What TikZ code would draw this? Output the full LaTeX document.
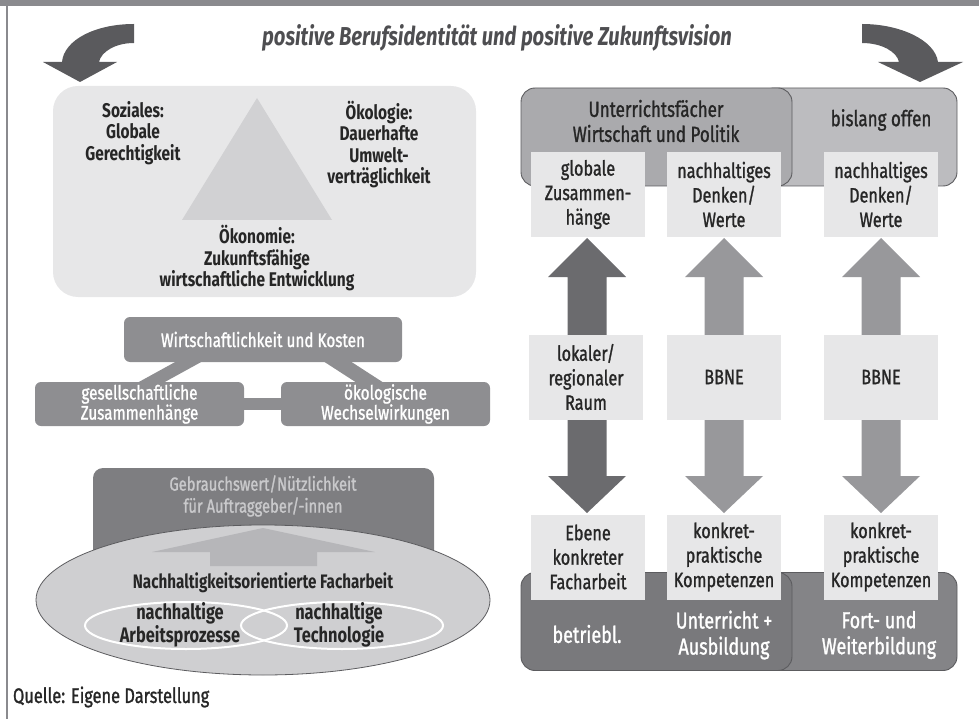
\documentclass[tikz,border=0pt]{standalone}
\usepackage{fontspec}
\setmainfont{Fira Sans}[FakeStretch=0.78]
\newfontfamily\medfont{Fira Sans}[FakeStretch=0.78, FakeBold=1.2]
\usetikzlibrary{calc,shapes.geometric}
\definecolor{barC}{HTML}{8A8A8E}
\definecolor{titleC}{HTML}{4E4E51}
\definecolor{curveC}{HTML}{5A5A5D}
\definecolor{paleC}{HTML}{E7E7E8}
\definecolor{triC}{HTML}{D1D1D3}
\definecolor{midC}{HTML}{8E8E91}
\definecolor{darkC}{HTML}{7E7E81}
\definecolor{ellC}{HTML}{CFCFD1}
\definecolor{ellArrC}{HTML}{B6B6B9}
\definecolor{gbTxtC}{HTML}{C9C9CB}
\definecolor{txtC}{HTML}{262626}
\definecolor{edgeC}{HTML}{5C5C5F}
\definecolor{ufC}{HTML}{AAAAAD}
\definecolor{boC}{HTML}{BCBCBF}
\definecolor{botLC}{HTML}{79797C}
\definecolor{botRC}{HTML}{848487}
\definecolor{arrDarkC}{HTML}{6B6B6E}
\definecolor{arrMidC}{HTML}{98989B}
\begin{document}
\begin{tikzpicture}[x=1pt,y=-1pt,
  every node/.style={inner sep=0pt, outer sep=0pt},
  bodytxt/.style={font=\medfont\fontsize{20.8}{24.5}\selectfont, text=txtC, align=center},
  boldtxt/.style={font=\fontsize{19.8}{21.5}\selectfont\bfseries, text=txtC, align=center},
  lightbox/.style={bodytxt, fill=paleC, minimum width=114pt, minimum height=85pt},
  bigbox/.style={draw=edgeC, line width=0.9pt, rounded corners=14pt, minimum width=#1, minimum height=98pt},
  midbox/.style={fill=midC, rounded corners=6pt, text=white, align=center, font=\medfont\fontsize{19.6}{20}\selectfont},
  wring/.style={shape=ellipse, draw=white, line width=2pt, minimum width=202pt, minimum height=47pt},
  headtxt/.style={font=\medfont\fontsize{21.8}{25}\selectfont, text=txtC, align=center},
  foottxt/.style={font=\medfont\fontsize{23}{26}\selectfont, text=white, align=center}
]
\useasboundingbox (0,0) rectangle (979,719);
% frame
\fill[barC] (0,0) rectangle (979,6);
\fill[barC] (6,6) rectangle (8,719);

% title
\node[font=\fontsize{25.9}{30}\selectfont\bfseries\itshape, text=titleC] (title) at (497,38) {positive Berufsidentität und positive Zukunftsvision};

% curved arrows
\fill[curveC] (134,24) .. controls (95,24) and (64,40) .. (62,62) -- (43,62) -- (80,82) -- (117,62) -- (99,62) .. controls (101,52) and (115,43) .. (134,43) -- cycle;
\fill[curveC] (862,24) .. controls (900,24) and (935,40) .. (938,62) -- (963,62) -- (920,82) -- (878,62) -- (899,62) .. controls (897,52) and (882,43) .. (862,43) -- cycle;

% ===== left: triangle panel
\node[fill=paleC, rounded corners=25pt, minimum width=423pt, minimum height=211pt] (panel) at (264.5,191.5) {};
\fill[triC] (257,98) -- (332,220) -- (182,220) -- cycle;
\node[boldtxt] (soz) at (133,133) {Soziales:\\Globale\\Gerechtigkeit};
\node[boldtxt] (oekol) at (379,144.5) {Ökologie:\\Dauerhafte\\Umwelt-\\verträglichkeit};
\node[boldtxt] (oekon) at (257,258.5) {Ökonomie:\\Zukunftsfähige\\wirtschaftliche Entwicklung};

% ===== left: Wirtschaftlichkeit
\node[midbox, minimum width=278pt, minimum height=45pt] (wk) at (263,339.5) {Wirtschaftlichkeit und Kosten};
\node[midbox, minimum width=209pt, minimum height=44pt] (gz) at (139.5,404) {gesellschaftliche\\Zusammenhänge};
\node[midbox, minimum width=209pt, minimum height=44pt] (ow) at (385.5,404) {ökologische\\Wechselwirkungen};
\fill[midC] ($(wk.south west)+(53,-1)$) -- ++(26,0) -- ($(gz.north west)+(128,1)$) -- ++(-26,0) -- cycle;
\fill[midC] ($(wk.south east)+(-79,-1)$) -- ++(27,0) -- ($(ow.north west)+(103,1)$) -- ++(-27,0) -- cycle;
\fill[midC] ($(gz.east)+(-1,-6)$) rectangle ($(ow.west)+(1,6)$);

% ===== left: Facharbeit
\node[fill=darkC, rounded corners=10pt, minimum width=341pt, minimum height=132pt] (gb) at (263.5,534) {};
\node[font=\medfont\fontsize{18.9}{22}\selectfont, text=gbTxtC, align=center] (gbt) at (263,496) {Gebrauchswert/Nützlichkeit\\für Auftraggeber/-innen};
\node[shape=ellipse, fill=ellC, draw=edgeC, line width=0.8pt, minimum width=454pt, minimum height=150pt] (ell) at (263,600) {};
\fill[ellArrC] (263,528) -- (375,552) -- (317,552) -- (317,566) -- (210,566) -- (210,552) -- (152,552) -- cycle;
\node[boldtxt, font=\fontsize{19.5}{21}\selectfont\bfseries] (nf) at (263,583) {Nachhaltigkeitsorientierte Facharbeit};
\node[wring] (wl) at (186,625.5) {};
\node[wring] (wr) at (342,625.5) {};
\node[boldtxt, font=\fontsize{21}{19.5}\selectfont\bfseries] (ap) at (180,625) {nachhaltige\\Arbeitsprozesse};
\node[boldtxt, font=\fontsize{21}{19.5}\selectfont\bfseries] (tech) at (339,625) {nachhaltige\\Technologie};

\node[font=\medfont\fontsize{21}{22}\selectfont, text=txtC, anchor=west] (quelle) at (13,697) {Quelle: Eigene Darstellung};

% ===== right: frames
\node[bigbox=197pt, fill=boC] (bo) at (858.5,137) {};
\node[bigbox=271pt, fill=ufC] (uf) at (656.5,137) {};
\node[bigbox=197pt, fill=botRC] (fw) at (858.5,621.5) {};
\node[bigbox=271pt, fill=botLC] (ua) at (656.5,621.5) {};
\node[headtxt] (uft) at (656,121) {Unterrichtsfächer\\Wirtschaft und Politik};
\node[headtxt] (bot) at (881,120) {bislang offen};
\node[foottxt] (betr) at (587,634) {betriebl.};
\node[foottxt] (uat) at (724,635) {Unterricht +\\Ausbildung};
\node[foottxt] (fwt) at (879,635) {Fort- und\\Weiterbildung};

% ===== right: column arrows
\coordinate (c1t) at (587,237); \coordinate (c1b) at (587,515);
\coordinate (c2t) at (724,237); \coordinate (c2b) at (724,515);
\coordinate (c3t) at (881,237); \coordinate (c3b) at (881,515);
\foreach \c/\col in {c1/arrDarkC, c2/arrMidC, c3/arrMidC}{
  \fill[\col] ($(\c t)+(0,1)$) -- ($(\c t)+(39,40)$) -- ($(\c t)+(19.5,40)$) -- ($(\c b)+(19.5,-39)$) -- ($(\c b)+(39,-39)$) -- ($(\c b)+(0,-2)$) -- ($(\c b)+(-39,-39)$) -- ($(\c b)+(-19.5,-39)$) -- ($(\c t)+(-19.5,40)$) -- ($(\c t)+(-39,40)$) -- cycle;
}
\node[lightbox] (t1) at (588,194.5) {globale\\Zusammen-\\hänge};
\node[lightbox] (t2) at (724,194.5) {nachhaltiges\\Denken/\\Werte};
\node[lightbox] (t3) at (881,194.5) {nachhaltiges\\Denken/\\Werte};
\node[lightbox] (m1) at (586,377) {lokaler/\\regionaler\\Raum};
\node[lightbox] (m2) at (724,377) {BBNE};
\node[lightbox] (m3) at (881,377) {BBNE};
\node[lightbox] (b1) at (588,557) {Ebene\\konkreter\\Facharbeit};
\node[lightbox] (b2) at (724,557) {konkret-\\praktische\\Kompetenzen};
\node[lightbox] (b3) at (881,557) {konkret-\\praktische\\Kompetenzen};
\end{tikzpicture}
\end{document}
